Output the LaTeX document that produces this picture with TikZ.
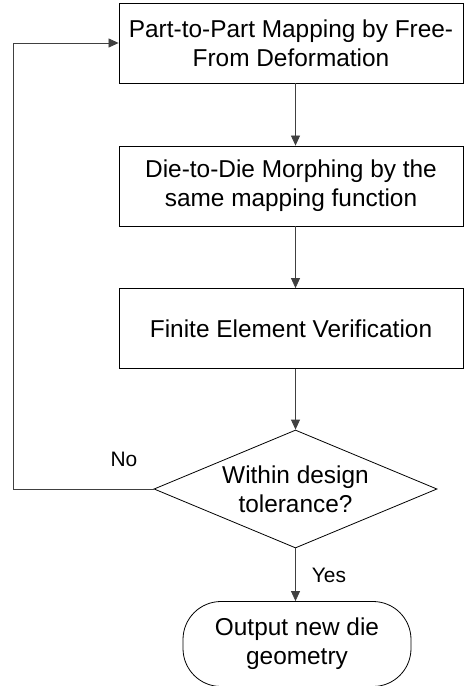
\documentclass[tikz,border=0pt]{standalone}
\usepackage{fontspec}
\setmainfont{Liberation Sans}
\usetikzlibrary{arrows.meta,shapes.geometric}
\begin{document}
\begin{tikzpicture}[x=1bp,y=-1bp,
  every node/.style={font=\fontsize{24.5}{29}\selectfont, align=center, inner sep=0pt},
  proc/.style={draw=black, line width=0.8bp, minimum width=344bp, minimum height=80bp},
  decide/.style={draw=black, line width=0.8bp, diamond, aspect=2.4, minimum width=283bp, minimum height=118bp},
  term/.style={draw=black, line width=0.8bp, rounded corners=38bp, minimum width=228bp, minimum height=85bp},
  conn/.style={draw=black!75, line width=0.8bp, -{Triangle[length=10bp,width=9bp]}},
  lbl/.style={font=\fontsize{21}{24}\selectfont}]
\useasboundingbox (0,0) rectangle (464,686);
\node[proc] (p1) at (291,43) {Part-to-Part Mapping by Free-\\From Deformation};
\node[proc] (p2) at (291,186) {Die-to-Die Morphing by the\\same mapping function};
\node[proc] (p3) at (291,328.5) {Finite Element Verification};
\node[decide] (d) at (295.5,489) {Within design\\tolerance?};
\node[term] (t) at (297,644) {Output new die\\geometry};
\coordinate (c1) at (13,489);
\coordinate (c2) at (13,43);
\draw[conn] (p1.south -| d.north) -- (p2.north -| d.north);
\draw[conn] (p2.south -| d.north) -- (p3.north -| d.north);
\draw[conn] (p3.south -| d.north) -- (d.north);
\draw[conn] (d.south) -- (t.north -| d.south);
\draw[conn] (d.west) -- (c1) -- (c2) -- (p1.west);
\node[lbl] (no) at (124,459) {No};
\node[lbl] (yes) at (329,575) {Yes};
\end{tikzpicture}
\end{document}
